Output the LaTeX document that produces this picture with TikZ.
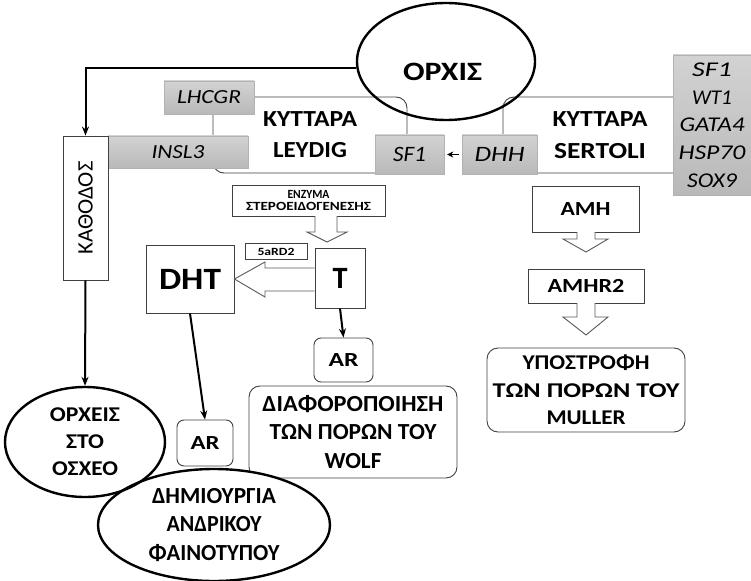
\documentclass[tikz,border=0pt]{standalone}
\usepackage{graphicx}
\usepackage{fontspec}
\setmainfont{Carlito}
\usetikzlibrary{arrows.meta,calc,shapes.geometric}
\newcommand{\myfs}[2]{\fontsize{#1}{#2}\selectfont}
\newcommand{\fitw}[2]{\resizebox{#1pt}{\height}{#2}}
\begin{document}
\begin{tikzpicture}[x=1pt,y=-1pt,
  box/.style={draw=black!75, line width=0.9pt, fill=white, inner sep=0pt, align=center, font=\bfseries\myfs{20}{28}},
  rbox/.style={box, rounded corners=11pt},
  gene/.style={top color=gray!35, bottom color=gray!55, draw=gray!60, line width=0.4pt, inner sep=0pt, align=center, font=\itshape\myfs{21}{27.7}},
  oval/.style={ellipse, draw=black, line width=2.4pt, inner sep=0pt, align=center, font=\bfseries\myfs{21}{27}},
  lbl/.style={inner sep=0pt, align=center},
  hollow/.style={draw=black!65, line width=0.9pt, fill=white, line join=miter},
  conn/.style={line width=2pt, -{Stealth[length=9pt,width=7pt]}},
  small/.style={line width=1.6pt, -{Stealth[length=6pt,width=6pt]}}
]
\useasboundingbox (0,0) rectangle (751,580);

% cell boxes
\node[rbox, minimum width=194, minimum height=76, font=\bfseries\myfs{23}{31}] (leyd) at (310,135) {\fitw{94}{ΚΥΤΤΑΡΑ}\\\fitw{74}{LEYDIG}};
\node[rbox, minimum width=194, minimum height=76, font=\bfseries\myfs{23}{32}] (sert) at (600,135) {\fitw{95}{ΚΥΤΤΑΡΑ}\\\fitw{92}{SERTOLI}};

% testis
\node[oval, fill=none, minimum width=178, minimum height=117] (orxis) at (446,61.5) {};
\node[lbl, font=\bfseries\myfs{26.5}{30}] (orxist) at (442.5,71.5) {\fitw{79}{ΟΡΧΙΣ}};

% gene labels
\node[gene, minimum width=78, minimum height=140] (genes) at (712,125) {\fitw{40}{SF1}\\\fitw{40}{WT1}\\\fitw{65}{GATA4}\\\fitw{67}{HSP70}\\\fitw{50}{SOX9}};
\node[gene, minimum width=90, minimum height=33, font=\itshape\myfs{20}{24}] (lhcgr) at (209,97.5) {\fitw{64}{LHCGR}};
\node[gene, minimum width=140, minimum height=32, font=\itshape\myfs{20}{24}] (insl) at (178,152) {\fitw{53}{INSL3}};
\node[gene, minimum width=69, minimum height=39, font=\itshape\myfs{22}{24}] (sfa) at (409.5,154.5) {\fitw{33}{SF1}};
\node[gene, minimum width=75, minimum height=39, font=\itshape\myfs{22}{24}] (dhh) at (499.5,154.5) {\fitw{50}{DHH}};
\draw[small, shorten <=3pt, shorten >=3pt] (dhh.west) -- (sfa.east);

% descent
\node[box, rotate=90, minimum width=144, minimum height=45, font=\myfs{22}{24}] (kath) at (85.5,208) {\fitw{93}{ΚΑΘΟΔΟΣ}};
\draw[conn] (orxis.184) -| (kath.east);

% steroidogenesis
\node[box, minimum width=153, minimum height=31, font=\bfseries\myfs{12.5}{11.5}] (enz) at (308.5,200.5) {\fitw{42}{ΕΝΖΥΜΑ}\\\fitw{125}{ΣΤΕΡΟΕΙΔΟΓΕΝΕΣΗΣ}};
\node[box, minimum width=88, minimum height=68, font=\bfseries\myfs{31}{32}] (dht) at (190,279) {\fitw{62}{DHT}};
\node[box, minimum width=50, minimum height=60, font=\bfseries\myfs{31}{32}] (t) at (340,278) {\fitw{15}{T}};
\draw[hollow] (315,216) -- (315,232) -- (307,232) -- (327,242) -- (347,232) -- (337,232) -- (337,216);
\draw[hollow] (t.west |- 0,268) -- (265,268) -- (265,262) -- (dht.east) -- (265,297) -- (265,291) -- (t.west |- 0,291);
\node[box, minimum width=62, minimum height=16, font=\bfseries\myfs{11}{11}] (sard) at (276,251.5) {\fitw{37}{5aRD2}};

% AR and outcomes
\node[box, rounded corners=7pt, minimum width=59, minimum height=44] (arr) at (343.5,360) {\fitw{30}{AR}};
\draw[conn] (t.south) -- (arr.north);
\node[rbox, minimum width=208, minimum height=92, font=\bfseries\myfs{23}{28.5}] (wolf) at (353,432) {\fitw{181}{ΔΙΑΦΟΡΟΠΟΙΗΣΗ}\\\fitw{167}{ΤΩΝ ΠΟΡΩΝ ΤΟΥ}\\\fitw{57}{WOLF}};
\node[box, rounded corners=7pt, minimum width=56, minimum height=46] (arl) at (205,443) {\fitw{29}{AR}};
\draw[conn] (dht.south) -- (arl.north);
\node[oval, fill=white, minimum width=232, minimum height=112, font=\bfseries\myfs{23}{28.5}] (andr) at (214,525) {\fitw{124}{ΔΗΜΙΟΥΡΓΙΑ}\\\fitw{95}{ΑΝΔΡΙΚΟΥ}\\\fitw{131}{ΦΑΙΝΟΤΥΠΟΥ}};
\node[oval, fill=none, minimum width=160, minimum height=110] (orxei) at (85,442) {\fitw{70}{ΟΡΧΕΙΣ}\\\fitw{38}{ΣΤΟ}\\\fitw{66}{ΟΣΧΕΟ}};
\draw[conn] (kath.west) -- (orxei.north);

% AMH pathway
\node[box, minimum width=107, minimum height=46] (amh) at (585.5,209) {\fitw{50}{AMH}};
\node[box, minimum width=116, minimum height=34] (amhr) at (586,286) {\fitw{77}{AMHR2}};
\node[rbox, minimum width=198, minimum height=84, font=\bfseries\myfs{21}{27.5}] (muller) at (586,390) {\fitw{127}{ΥΠΟΣΤΡΟΦΗ}\\\fitw{187}{ΤΩΝ ΠΌΡΩΝ ΤΟΥ}\\\fitw{79}{MULLER}};
\draw[hollow] (577,232) -- (577,239) -- (563,239) -- (586,252) -- (608,239) -- (595,239) -- (595,232);
\draw[hollow] (577,303) -- (577,317) -- (563,317) -- (586,335) -- (608,317) -- (595,317) -- (595,303);
\end{tikzpicture}
\end{document}
